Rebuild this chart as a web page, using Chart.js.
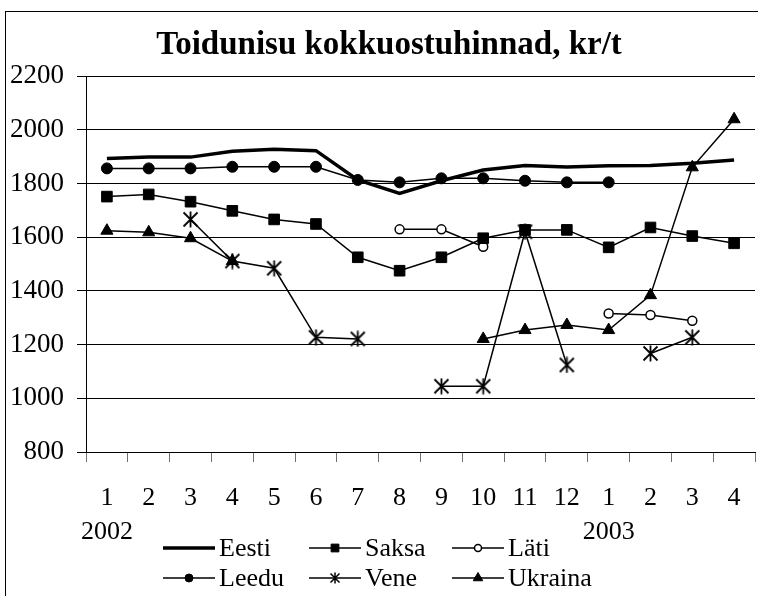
<!DOCTYPE html>
<html>
<head>
<meta charset="utf-8">
<title>Toidunisu kokkuostuhinnad, kr/t</title>
<script src="https://cdn.jsdelivr.net/npm/chart.js@4.4.1/dist/chart.umd.min.js"></script>
<style>
	html, body { margin: 0; padding: 0; background: #fff; overflow: hidden; }
	#wrap { position: relative; width: 758px; height: 596px; overflow: hidden; }
</style>
</head>
<body>
<!-- The canvas is a little wider than the window: the plot runs past the right edge, as in the original. -->
<div id="wrap"><canvas id="chart" width="764" height="596"></canvas></div>
<script>
/*
|--------------------------------------------------------------------------
| Data
|--------------------------------------------------------------------------
*/

var TITLE = 'Toidunisu kokkuostuhinnad, kr/t';

var MONTHS = [['1', '2002'], '2', '3', '4', '5', '6', '7', '8', '9', '10', '11', '12',
	['1', '2003'], '2', '3', '4'];

var SERIES_NAMES = ['Eesti', 'Saksa', 'Läti', 'Leedu', 'Vene', 'Ukraina'];

var EESTI   = [1893, 1898, 1898, 1920, 1927, 1922, 1813, 1763, 1810, 1850, 1867, 1861, 1866, 1867, 1875, 1887];
var SAKSA   = [1751, 1759, 1732, 1698, 1666, 1649, 1525, 1475, 1525, 1596, 1627, 1627, 1562, 1636, 1604, 1577];
var LATI    = [null, null, null, null, null, null, null, 1629, 1629, 1564, null, null, 1316, 1310, 1289, null];
var LEEDU   = [1856, 1856, 1856, 1862, 1862, 1862, 1813, 1804, 1819, 1819, 1810, 1804, 1804, null, null, null];
var VENE    = [null, null, 1666, 1511, 1484, 1227, 1221, null, 1045, 1045, 1620, 1124, null, 1167, 1227, null];
var UKRAINA = [1624, 1618, 1596, 1511, null, null, null, null, null, 1221, 1254, 1273, 1254, 1384, 1860, 2039];

var Y_MIN  = 800;
var Y_MAX  = 2200;
var Y_STEP = 200;

/*
|--------------------------------------------------------------------------
| Style
|--------------------------------------------------------------------------
*/

var FONT_FAMILY = "'Liberation Serif', 'Times New Roman', serif";
var INK = '#000';

// Title position (the title sits centred over the plot, not the canvas).
var TITLE_X = 389;
var TITLE_Y = 45;

// Legend layout: three columns, two rows.
var LEGEND_COL_X = [163, 309, 452];
var LEGEND_ROW_Y = [548, 578];
var LEGEND_SAMPLE = 52;

/**
 * Excel-like star marker: an X with a vertical stroke.
 */
function makeStar(size, width) {
	var c = document.createElement('canvas');
	c.width = size;
	c.height = size;
	var g = c.getContext('2d');
	var m = 1.5;
	g.strokeStyle = INK;
	g.lineWidth = width;
	g.beginPath();
	g.moveTo(m, m);
	g.lineTo(size - m, size - m);
	g.moveTo(size - m, m);
	g.lineTo(m, size - m);
	g.moveTo(size / 2, 0.5);
	g.lineTo(size / 2, size - 0.5);
	g.stroke();
	return c;
}

var STAR_BIG   = makeStar(17, 1.8);
var STAR_SMALL = makeStar(12, 1.5);

function series(label, data, opts) {
	var ds = {
		label: label,
		data: data,
		borderColor: INK,
		backgroundColor: INK,
		pointBackgroundColor: INK,
		pointBorderColor: INK,
		borderWidth: 1.5,
		pointBorderWidth: 1,
		tension: 0,
		spanGaps: false,
		fill: false
	};
	for (var k in opts) ds[k] = opts[k];
	return ds;
}

var datasets = [
	series(SERIES_NAMES[0], EESTI, { borderWidth: 3.5, pointRadius: 0, legendRadius: 0 }),
	series(SERIES_NAMES[1], SAKSA, { pointStyle: 'rect', pointRadius: 7.5, legendRadius: 5.5 }),
	series(SERIES_NAMES[2], LATI, { pointStyle: 'circle', pointRadius: 4.5, pointBackgroundColor: '#fff', pointBorderWidth: 1.5, legendRadius: 3.5 }),
	series(SERIES_NAMES[3], LEEDU, { pointStyle: 'circle', pointRadius: 5.5, legendRadius: 4 }),
	series(SERIES_NAMES[4], VENE, { pointStyle: STAR_BIG, pointRadius: 8, legendStyle: STAR_SMALL }),
	series(SERIES_NAMES[5], UKRAINA, { pointStyle: 'triangle', pointRadius: 7, legendRadius: 5.5 })
];

/*
|--------------------------------------------------------------------------
| Plugins
|--------------------------------------------------------------------------
*/

var framePlugin = {
	id: 'frame',
	beforeDraw: function (chart) {
		var ctx = chart.ctx;
		ctx.save();
		ctx.fillStyle = '#fff';
		ctx.fillRect(0, 0, chart.width, chart.height);
		ctx.strokeStyle = INK;
		ctx.lineWidth = 1;
		ctx.strokeRect(5.5, 11.5, chart.width + 10, chart.height + 10);

		ctx.fillStyle = INK;
		ctx.font = 'bold 33px ' + FONT_FAMILY;
		ctx.textAlign = 'center';
		ctx.textBaseline = 'middle';
		ctx.fillText(TITLE, TITLE_X, TITLE_Y);
		ctx.restore();
	}
};

var legendPlugin = {
	id: 'gridLegend',
	afterDraw: function (chart) {
		var ctx = chart.ctx;
		ctx.save();
		ctx.font = '26px ' + FONT_FAMILY;
		ctx.textAlign = 'left';
		ctx.textBaseline = 'middle';
		chart.data.datasets.forEach(function (ds, i) {
			var x0 = LEGEND_COL_X[i % 3];
			var y  = LEGEND_ROW_Y[Math.floor(i / 3)];

			ctx.strokeStyle = INK;
			ctx.lineWidth = ds.borderWidth;
			ctx.beginPath();
			ctx.moveTo(x0, y);
			ctx.lineTo(x0 + LEGEND_SAMPLE, y);
			ctx.stroke();

			var style = ds.legendStyle || ds.pointStyle;
			if (style && (ds.legendRadius || ds.legendStyle)) {
				ctx.fillStyle = ds.pointBackgroundColor;
				ctx.strokeStyle = ds.pointBorderColor;
				ctx.lineWidth = ds.pointBorderWidth;
				Chart.helpers.drawPoint(ctx, {
					pointStyle: style,
					radius: ds.legendRadius || 5,
					rotation: 0,
					borderWidth: ds.pointBorderWidth
				}, x0 + LEGEND_SAMPLE / 2, y);
			}

			ctx.fillStyle = INK;
			ctx.fillText(ds.label, x0 + LEGEND_SAMPLE + 4, y + 1);
		});
		ctx.restore();
	}
};

/*
|--------------------------------------------------------------------------
| Chart
|--------------------------------------------------------------------------
*/

new Chart(document.getElementById('chart'), {
	type: 'line',
	data: {
		labels: MONTHS,
		datasets: datasets
	},
	options: {
		responsive: false,
		animation: false,
		layout: {
			padding: { top: 76, left: 0, right: 3, bottom: 0 }
		},
		scales: {
			x: {
				type: 'category',
				offset: true,
				afterFit: function (scale) { scale.height = 144; },
				grid: {
					offset: true,
					drawOnChartArea: false,
					drawTicks: true,
					tickLength: 10,
					color: '#707070'
				},
				border: { display: true, color: INK, width: 1 },
				ticks: {
					color: INK,
					padding: 19,
					maxRotation: 0,
					autoSkip: false,
					font: { family: FONT_FAMILY, size: 26, lineHeight: 1.3 }
				}
			},
			y: {
				min: Y_MIN,
				max: Y_MAX,
				afterFit: function (scale) { scale.width = 86; },
				grid: {
					color: INK,
					lineWidth: 1,
					tickLength: 9
				},
				border: { display: true, color: INK, width: 1 },
				ticks: {
					stepSize: Y_STEP,
					color: INK,
					padding: 13,
					font: { family: FONT_FAMILY, size: 27 },
					callback: function (value) { return String(value); }
				}
			}
		},
		plugins: {
			legend: { display: false },
			tooltip: { enabled: false },
			title: { display: false }
		}
	},
	plugins: [framePlugin, legendPlugin]
});
</script>
</body>
</html>
